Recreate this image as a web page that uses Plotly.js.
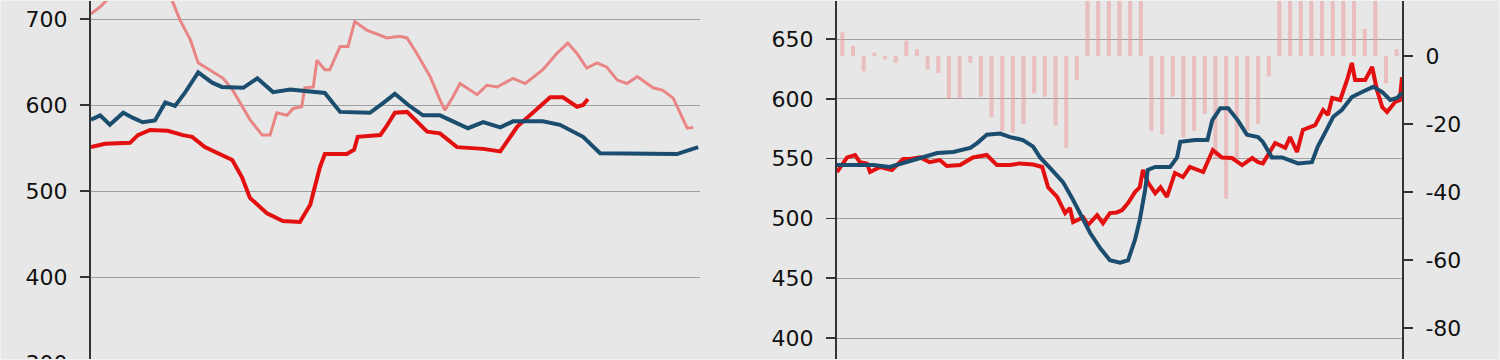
<!DOCTYPE html>
<html>
<head>
<meta charset="utf-8">
<script src="https://cdn.plot.ly/plotly-3.0.1.min.js"></script>
<style>
  html, body { margin: 0; padding: 0; background: #e7e7e7; overflow: hidden; }
  #wrap { position: relative; width: 1500px; height: 360px; overflow: hidden; }
  #chart { width: 1500px; height: 400px; }
  #frame { position: absolute; left: 0; top: 0; width: 1498px; height: 358px;
           border: 1px solid #f1f1f1; pointer-events: none; }
</style>
</head>
<body>
<div id="wrap">
<div id="chart"></div>
<div id="frame"></div>
</div>
<script>
// ---------- Left chart data (x = period index 0..100) ----------
const leftPinkX = [0, 1.5, 2.6, 6, 10, 13.3, 14.6, 16.3, 17.6, 20, 21.7, 23.3, 24.5, 26.1, 28.1, 29.4, 30.5, 32.2, 33.2, 34.6, 35.1, 36.5, 37.1, 38.4, 39.2, 40.9, 42.2, 43.3, 45.3, 48.6, 50.7, 51.9, 53.5, 55.7, 57.3, 58.1, 59.4, 60.6, 63.4, 65, 66.7, 69.3, 71.3, 74.2, 76.5, 78.3, 79.8, 81.4, 83.1, 84.7, 86.4, 88, 89.7, 92.3, 93.9, 95.6, 97.9, 98.9];
const leftPink  = [706, 714, 722, 740, 745, 722, 699, 676, 649, 638, 631, 617, 602, 583, 565, 565, 591, 588, 596, 598, 620, 621, 652, 641, 641, 668, 668, 697, 687, 678, 680, 678, 660, 633, 606, 594, 609, 625, 612, 623, 621, 631, 625, 641, 660, 672, 660, 643, 649, 644, 629, 625, 633, 620, 617, 608, 573, 574];

const leftBlueX = [0, 1.5, 3.1, 5.3, 6.9, 8.5, 10.5, 12.2, 13.8, 15.4, 17.6, 19.9, 21.5, 23.2, 25, 27.3, 29.9, 32.7, 34.3, 38.4, 40.9, 45.8, 47.9, 49.9, 52.1, 54.5, 57.3, 61.9, 64.4, 67.2, 69.3, 74.2, 77, 80.8, 83.6, 91.8, 96.2, 99.7];
const leftBlue  = [583, 588, 577, 591, 585, 580, 582, 603, 599, 614, 638, 626, 621, 621, 620, 631, 615, 618, 617, 614, 592, 591, 602, 613, 600, 588, 588, 573, 580, 574, 581, 581, 577, 563, 544, 544, 543, 551];

const leftRedX = [0, 2.3, 6.4, 7.7, 9.7, 12.6, 15.1, 16.6, 18.7, 20.9, 23.2, 24.8, 26.1, 28.9, 31.5, 34.3, 36, 37.6, 38.4, 42, 43.2, 43.8, 47.5, 48.5, 49.9, 51.9, 55.2, 57.3, 60.1, 64.4, 67.2, 70, 72.1, 75.4, 77.5, 79.8, 80.8, 81.6];
const leftRed  = [551, 555, 556, 565, 571, 570, 565, 563, 551, 544, 536, 516, 492, 474, 465, 464, 484, 528, 543, 543, 548, 563, 565, 575, 591, 592, 569, 567, 551, 549, 546, 575, 588, 609, 609, 598, 600, 607];

// ---------- Right chart data (x = period index 0..106) ----------
const rightBlueX = [0, 2.4, 6.8, 9.9, 12.4, 15, 18.8, 21.8, 25, 26.3, 28.1, 30.6, 32.5, 34.9, 36.8, 38.1, 40, 42.4, 44.3, 45.6, 47.5, 49.4, 51.2, 53.1, 54.6, 55.9, 56.8, 57.8, 58.3, 59.7, 62.5, 63.8, 64.4, 67.2, 69.5, 70.4, 71.9, 73.4, 75.2, 76.9, 79, 79.9, 81.6, 83.5, 86.5, 89.1, 90.2, 91.6, 93.1, 94.7, 96.6, 98.5, 100.6, 102.3, 103.8, 105.1, 106];
const rightBlue  = [544.6, 544.6, 544.6, 543, 546, 549.7, 554.7, 555.5, 559, 563, 570, 571, 568, 565.5, 560, 551, 542, 530.4, 515.4, 504.5, 487.8, 475, 465, 463, 465, 482, 498.7, 523.7, 540.5, 543, 543, 551, 564, 565.5, 565.5, 582, 592, 592, 582, 570, 568, 564, 551, 551, 546, 547, 560, 572, 585, 590.6, 601.5, 605.7, 610, 605.7, 599, 600.7, 605];

const rightRedX = [0, 1.9, 3.4, 4.3, 5.6, 6.2, 8.1, 10.3, 12.4, 13.7, 15.6, 17.4, 19.3, 20.6, 23.1, 25.5, 28.1, 30, 32.5, 34.3, 36.8, 38.5, 39.6, 41.3, 42.8, 43.7, 44.3, 46.2, 47.1, 48.8, 49.9, 51.2, 52.5, 53.5, 54.6, 55.9, 56.8, 57.4, 58.3, 59.7, 60.7, 61.9, 63.4, 64.9, 66.2, 68.7, 70.5, 72.2, 74.1, 76, 77.9, 79, 79.9, 82.2, 84.1, 85, 86.3, 87.4, 89.7, 91.2, 92.1, 92.9, 94.4, 95.7, 96.6, 97.2, 99.1, 100.4, 101.3, 102.3, 103.2, 104.7, 105.6, 106];
const rightRed  = [538.8, 551, 553, 547, 546, 538.8, 543, 540.5, 549.7, 549.7, 551, 547, 548.8, 543.8, 544.6, 551, 553, 544.6, 544.6, 546, 545, 543, 526, 518, 504.5, 508.7, 497, 501, 494.5, 502.8, 496, 504.5, 505, 507, 512.8, 522, 526, 540.5, 530.4, 521, 526, 518, 538, 534.6, 543, 538.8, 557, 551, 550.5, 544.6, 550.5, 547, 546, 563, 559, 568, 555.5, 574, 578, 590.6, 586.5, 600.7, 599, 615.7, 630, 615.7, 615.7, 626.6, 607.4, 593, 589, 597.3, 599, 618];

const rightBarX = [1, 3, 5, 7, 9, 11, 13, 15, 17, 19, 21, 23, 25, 27, 29, 31, 33, 35, 37, 39, 41, 43, 45, 47, 49, 51, 53, 55, 57, 59, 61, 63, 65, 67, 69, 71, 73, 75, 77, 79, 81, 83, 85, 87, 89, 91, 93, 95, 97, 99, 101, 103, 105];
const rightBar  = [7, 3, -4.5, 1, -1, -2, 4.5, 2, -4, -5, -12.5, -12.5, -2, -12, -18, -22, -22.6, -20, -11, -12, -20.5, -27, -7, 18, 22, 22, 20, 22, 20, -22, -23, -12, -24, -22, -17, -30, -42, -30, -22, -20, -6, 20, 22, 20, 22, 20, 22, 20, 18, 8, 17, -8, 2];

// Tick labels
const leftTickVals = [300, 400, 500, 600, 700];
const leftTickText = ['300', '400', '500', '600', '700'];
const rightLTickVals = [400, 450, 500, 550, 600, 650];
const rightLTickText = ['400', '450', '500', '550', '600', '650'];
const rightRTickVals = [0, -20, -40, -60, -80];
const rightRTickText = ['0', '-20', '-40', '-60', '-80'];

const BLUE = '#1b4d6e';
const RED = '#e31010';
const PINK = '#e98585';
const BARC = 'rgba(238,150,150,0.5)';
const FONT = {family: 'DejaVu Sans, Arial, sans-serif', size: 22, color: '#111'};

const traces = [
  {x: rightBarX, y: rightBar, type: 'bar', xaxis: 'x2', yaxis: 'y3',
   marker: {color: BARC, line: {width: 0}}, hoverinfo: 'skip'},
  {x: leftPinkX, y: leftPink, type: 'scatter', mode: 'lines', xaxis: 'x', yaxis: 'y',
   line: {color: PINK, width: 3}},
  {x: leftRedX, y: leftRed, type: 'scatter', mode: 'lines', xaxis: 'x', yaxis: 'y',
   line: {color: RED, width: 4}},
  {x: leftBlueX, y: leftBlue, type: 'scatter', mode: 'lines', xaxis: 'x', yaxis: 'y',
   line: {color: BLUE, width: 4}},
  {x: rightRedX, y: rightRed, type: 'scatter', mode: 'lines', xaxis: 'x2', yaxis: 'y2',
   line: {color: RED, width: 4}},
  {x: rightBlueX, y: rightBlue, type: 'scatter', mode: 'lines', xaxis: 'x2', yaxis: 'y2',
   line: {color: BLUE, width: 4}}
];

const yCommon = {
  showline: true, linecolor: '#333', linewidth: 2,
  ticks: 'outside', ticklen: 9, tickwidth: 1.5, tickcolor: '#333',
  ticklabelstandoff: 8,
  zeroline: false, tickfont: FONT, fixedrange: true
};

const layout = {
  width: 1500, height: 400,
  margin: {l: 0, r: 0, t: 0, b: 0, pad: 0},
  paper_bgcolor: '#e7e7e7', plot_bgcolor: '#e7e7e7',
  showlegend: false, bargap: 0.62,
  xaxis: {domain: [91/1500, 700/1500], range: [0, 100], visible: false, anchor: 'y', fixedrange: true},
  yaxis: Object.assign({}, yCommon, {
    domain: [0, 1], anchor: 'x', range: [257, 722.1],
    tickmode: 'array', tickvals: leftTickVals, ticktext: leftTickText,
    showgrid: true, gridcolor: '#a0a0a0', gridwidth: 1
  }),
  xaxis2: {domain: [837/1500, 1402/1500], range: [0, 106], visible: false, anchor: 'y3', fixedrange: true},
  yaxis3: Object.assign({}, yCommon, {
    domain: [0, 1], anchor: 'x2', side: 'right', range: [-101.2, 16.47],
    tickmode: 'array', tickvals: rightRTickVals, ticktext: rightRTickText,
    showgrid: false
  }),
  yaxis2: Object.assign({}, yCommon, {
    domain: [0, 1], anchor: 'x2', side: 'left', overlaying: 'y3', range: [348.2, 682.6],
    tickmode: 'array', tickvals: rightLTickVals, ticktext: rightLTickText,
    showgrid: true, gridcolor: '#a0a0a0', gridwidth: 1
  })
};

Plotly.newPlot('chart', traces, layout, {displayModeBar: false, staticPlot: true});
</script>
</body>
</html>
